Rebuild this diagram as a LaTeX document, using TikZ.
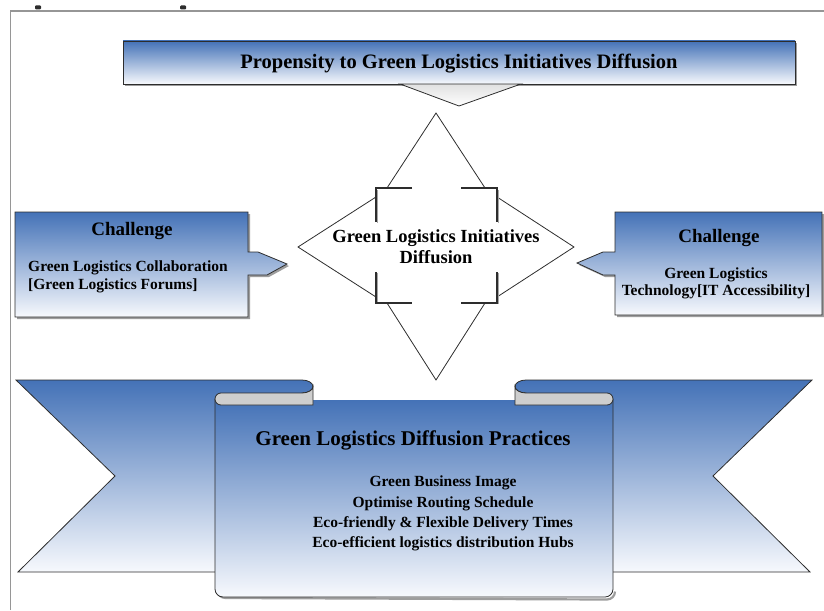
\documentclass[tikz,border=0pt]{standalone}
\usepackage{fontspec}
\setmainfont{Liberation Serif}
\usetikzlibrary{shadows}
\definecolor{bblue}{RGB}{68,114,183}
\definecolor{bwhite}{RGB}{247,249,253}
\definecolor{edge}{RGB}{45,45,45}
\definecolor{curl}{RGB}{206,206,206}
\definecolor{framec}{RGB}{150,150,150}
\newcommand\ribbonside{%
  \path[bluefill] (16,380) -- (302,380) arc[start angle=-90,end angle=90,x radius=11,y radius=6.5]
      -- (302,572) -- (18,572) -- (115,476) -- cycle;
}
\newcommand\curlside{%
  \path[fill=curl, draw=edge, line width=0.8pt] (302,393) arc[start angle=90,end angle=0,x radius=11,y radius=6.5]
      -- (313,405) -- (221,405) arc[start angle=90,end angle=270,radius=6] -- cycle;
}
\begin{document}
\begin{tikzpicture}[x=1pt,y=-1pt,
  bluefill/.style={top color=bblue, bottom color=bwhite, draw=edge, line width=0.8pt},
  shad/.style={drop shadow={shadow xshift=2pt,shadow yshift=-2pt,opacity=0.55,fill=black!70}},
  txt/.style={text=black, inner sep=0pt, align=center},
  diam/.style={draw=edge, line width=0.8pt},
  brk/.style={draw=edge, line width=1.2pt},
  brkshadow/.style={draw=black!35, line width=1.6pt}
]
\useasboundingbox (0,0) rectangle (824,610);
% frame
\draw[framec, line width=1.3pt] (10.5,610) -- (10.5,11) -- (824,11);
\fill[edge, rounded corners=1pt] (35,5.5) rectangle (41,9.5);
\fill[edge, rounded corners=1pt] (180,5.5) rectangle (186,9.5);

% top banner
\path[bluefill, shad] (123,41) rectangle (795,84);
\path[draw=edge, line width=0.8pt, top color=black!12, bottom color=white] (400,84) -- (521,84) -- (459,106) -- cycle;
\node[txt, font=\bfseries\fontsize{20.5}{22}\selectfont] (title) at (459,64) {Propensity to Green Logistics Initiatives Diffusion};

% central quad shape
\draw[diam] (387,188) -- (436,113) -- (485,188);
\draw[diam] (376,197) -- (298,247) -- (376,297);
\draw[diam] (497,197) -- (574,247) -- (497,297);
\draw[diam] (387,303) -- (436,380) -- (485,303);
\draw[brkshadow] (377.5,190) -- (377.5,223);
\draw[brkshadow] (498.5,190) -- (498.5,223);
\draw[brkshadow] (377.5,273) -- (377.5,304);
\draw[brkshadow] (498.5,273) -- (498.5,304);
\draw[brk] (412,188) -- (376,188) -- (376,222);
\draw[brk] (461,188) -- (497,188) -- (497,222);
\draw[brk] (376,272) -- (376,303) -- (412,303);
\draw[brk] (497,272) -- (497,303) -- (461,303);
\node[txt, font=\bfseries\fontsize{18.5}{21}\selectfont] (gli) at (436,247) {Green Logistics Initiatives\\Diffusion};

% left challenge
\path[bluefill, shad] (15,212) -- (248,212) -- (248,252) -- (258,252) -- (287,264) -- (267,275) -- (248,275) -- (248,317) -- (15,317) -- cycle;
\node[txt, font=\bfseries\fontsize{19}{21}\selectfont] (ch1) at (132,231) {Challenge};
\node[txt, font=\bfseries\fontsize{15.5}{18}\selectfont, align=left, anchor=west] (ch1t) at (28,276.5) {Green Logistics Collaboration\\{}[Green Logistics Forums]};

% right challenge
\path[bluefill, shad] (615,212) -- (822,212) -- (822,315) -- (615,315) -- (615,275) -- (603,275) -- (577,263) -- (603,252) -- (615,252) -- cycle;
\node[txt, font=\bfseries\fontsize{19}{21}\selectfont] (ch2) at (719,238) {Challenge};
\node[txt, font=\bfseries\fontsize{15.5}{17.5}\selectfont] (ch2t) at (716,283.5) {Green Logistics\\Technology[IT Accessibility]};

% bottom ribbon
\ribbonside
\begin{scope}[xshift=828pt, xscale=-1]
\ribbonside
\end{scope}
\draw[black!55, line width=2.2pt, opacity=0.7] (217.5,590) arc[start angle=180,end angle=90,radius=8] -- (607,599.5) arc[start angle=90,end angle=0,radius=8];
\path[top color=bblue, bottom color=bwhite] (215,400) -- (215,589) arc[start angle=180,end angle=90,radius=8] -- (605,597) arc[start angle=90,end angle=0,radius=8] -- (613,400) -- cycle;
\draw[edge, line width=0.8pt] (215,399) -- (215,589) arc[start angle=180,end angle=90,radius=8] -- (605,597) arc[start angle=90,end angle=0,radius=8] -- (613,399);
\curlside
\begin{scope}[xshift=828pt, xscale=-1]
\curlside
\end{scope}
\node[txt, font=\bfseries\fontsize{21}{24}\selectfont] (gldp) at (413,440) {Green Logistics Diffusion Practices};
\node[txt, font=\bfseries\fontsize{15.5}{20.3}\selectfont] (items) at (443,513.5) {Green Business Image\\Optimise Routing Schedule\\Eco-friendly \& Flexible Delivery Times\\Eco-efficient logistics distribution Hubs};
\end{tikzpicture}
\end{document}
